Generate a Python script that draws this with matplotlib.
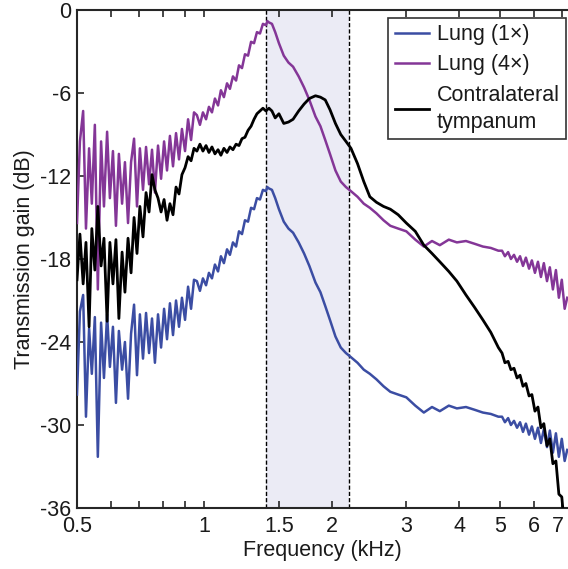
import matplotlib
matplotlib.use("Agg")
import matplotlib.pyplot as plt
from matplotlib.transforms import ScaledTranslation

# ---------------- data ----------------
freq_khz = [
    0.500, 0.508, 0.517, 0.525, 0.534, 0.542, 0.551, 0.560, 0.570, 0.579,
    0.589, 0.598, 0.608, 0.618, 0.628, 0.639, 0.649, 0.660, 0.671, 0.682,
    0.693, 0.704, 0.716, 0.728, 0.740, 0.752, 0.764, 0.777, 0.790, 0.803,
    0.816, 0.829, 0.843, 0.857, 0.871, 0.885, 0.900, 0.915, 0.930, 0.945,
    0.960, 0.976, 0.992, 1.009, 1.025, 1.042, 1.059, 1.077, 1.094, 1.112,
    1.131, 1.149, 1.168, 1.188, 1.207, 1.227, 1.247, 1.268, 1.289, 1.310,
    1.331, 1.353, 1.375, 1.398, 1.408, 1.421, 1.444,
    1.47, 1.50, 1.54, 1.58, 1.62, 1.67, 1.72, 1.77, 1.83, 1.88,
    1.93, 1.98, 2.04, 2.10, 2.16, 2.22, 2.30, 2.38, 2.46, 2.55,
    2.65, 2.75, 2.87, 3.00, 3.15, 3.30, 3.45, 3.60, 3.78, 3.95,
    4.15, 4.35, 4.55, 4.75, 4.95,
    5.05, 5.13, 5.22, 5.30, 5.39, 5.48, 5.57, 5.66, 5.75, 5.85,
    5.94, 6.04, 6.14, 6.24, 6.34, 6.45, 6.55, 6.66, 6.77, 6.88,
    6.99, 7.10, 7.20,
]

lung_1x_db = [
    -27.8, -21.8, -20.6, -29.4, -23.0, -26.3, -22.2, -32.3, -22.6, -26.6,
    -22.0, -25.8, -22.9, -28.4, -23.2, -26.0, -24.0, -28.1, -23.4, -21.3,
    -26.4, -22.0, -25.2, -21.9, -24.8, -22.3, -25.5, -22.0, -24.4, -21.6,
    -23.8, -21.2, -23.5, -21.0, -22.9, -20.8, -22.4, -20.0, -21.6, -19.5,
    -19.6, -20.3, -19.4, -19.9, -19.0, -19.4, -18.4, -18.9, -17.8, -18.3,
    -17.3, -17.7, -16.8, -17.1, -16.0, -16.2, -15.2, -15.3, -14.3, -14.4,
    -13.6, -13.7, -13.0, -13.1, -12.8, -12.9, -13.0,
    -13.6, -14.4, -15.3, -15.8, -16.1, -16.8, -17.6, -18.5, -19.7, -20.4,
    -21.4, -22.4, -23.6, -24.4, -24.8, -25.1, -25.5, -26.0, -26.3, -26.7,
    -27.2, -27.6, -27.8, -28.0, -28.6, -29.1, -28.7, -29.0, -28.6, -28.8,
    -28.7, -28.9, -29.1, -29.2, -29.4,
    -29.4, -29.8, -29.5, -30.0, -29.7, -30.2, -29.8, -30.5, -29.9, -30.7,
    -30.1, -31.0, -30.2, -31.3, -30.3, -31.6, -30.4, -32.0, -30.6, -32.3,
    -31.0, -32.6, -31.8,
]

lung_4x_db = [
    -15.4, -9.5, -7.3, -15.8, -10.0, -14.0, -8.3, -20.2, -9.5, -14.2,
    -8.8, -13.6, -10.2, -15.6, -10.4, -14.0, -11.0, -15.4, -11.0, -9.3,
    -14.2, -10.0, -13.0, -9.9, -12.6, -10.1, -13.2, -9.8, -12.2, -9.5,
    -11.6, -9.1, -11.3, -8.9, -10.8, -8.6, -10.2, -7.9, -9.4, -7.4,
    -7.6, -8.3, -7.4, -7.9, -7.0, -7.4, -6.4, -6.9, -5.8, -6.3,
    -5.3, -5.7, -4.8, -5.1, -4.0, -4.2, -3.2, -3.3, -2.3, -2.4,
    -1.6, -1.7, -1.0, -1.1, -0.8, -0.9, -1.0,
    -1.6, -2.4, -3.3, -3.8, -4.1, -4.8, -5.6, -6.5, -7.7, -8.4,
    -9.4, -10.4, -11.6, -12.4, -12.8, -13.1, -13.5, -14.0, -14.3, -14.7,
    -15.2, -15.6, -15.8, -16.0, -16.6, -17.1, -16.7, -17.0, -16.6, -16.8,
    -16.7, -16.9, -17.1, -17.2, -17.4,
    -17.4, -17.8, -17.5, -18.0, -17.7, -18.2, -17.8, -18.5, -17.9, -18.7,
    -18.1, -19.0, -18.2, -19.3, -18.3, -19.6, -18.6, -20.2, -18.8, -20.8,
    -19.5, -21.6, -20.8,
]

contralateral_db = [
    -19.5, -16.2, -19.8, -16.8, -22.9, -15.8, -18.8, -14.2, -18.5, -16.5,
    -22.5, -16.8, -19.8, -16.6, -22.3, -17.5, -20.4, -16.5, -19.0, -15.0,
    -17.6, -14.2, -16.4, -13.2, -14.6, -11.9, -13.0, -13.6, -14.6, -13.7,
    -15.2, -14.0, -14.8, -12.8, -13.3, -11.9, -11.4, -10.6, -10.9, -10.0,
    -10.2, -9.7, -10.2, -9.8, -10.3, -9.9, -10.4, -10.1, -10.5, -10.0,
    -10.3, -9.9, -10.1, -9.7, -9.8, -9.3, -9.2, -8.7, -8.4, -7.9,
    -7.5, -7.3, -7.1, -7.3, -7.2, -7.1, -7.3,
    -7.8, -7.5, -8.2, -8.1, -7.9, -7.3, -6.8, -6.4, -6.2, -6.3,
    -6.5, -7.2, -8.2, -9.0, -9.5, -10.0, -11.1, -12.4, -13.5, -13.9,
    -14.2, -14.4, -14.8, -15.4, -16.0, -17.0, -17.6, -18.2, -18.9, -19.6,
    -20.6, -21.5, -22.4, -23.3, -24.4,
    -24.8, -25.5, -25.4, -26.0, -25.9, -26.6, -26.4, -27.2, -27.0, -27.9,
    -27.8, -29.0, -28.7, -30.2, -29.9, -31.5, -31.0, -32.8, -32.6, -35.0,
    -35.2, -37.5, -38.0,
]

series_labels = ["Lung (1\u00d7)", "Lung (4\u00d7)", "Contralateral\ntympanum"]
band_khz = [1.40, 2.20]

x_ticks = [0.5, 1, 1.5, 2, 3, 4, 5, 6, 7]
x_tick_labels = ["0.5", "1", "1.5", "2", "3", "4", "5", "6", "7"]
x_minor_ticks = [0.6, 0.7, 0.8, 0.9]
y_ticks = [-36, -30, -24, -18, -12, -6, 0]
y_tick_labels = ["-36", "-30", "-24", "-18", "-12", "-6", "0"]

# ---------------- style ----------------
plt.rcParams["font.family"] = ["Liberation Sans", "DejaVu Sans"]
FS = 15.5
BLUE = "#3b4da3"
PURPLE = "#843697"
BLACK = "#000000"
SPINE = "#262626"
TEXT = "#1a1a1a"

fig = plt.figure(figsize=(5.68, 5.69), dpi=100)
ax = fig.add_axes([77 / 568, 1 - 508 / 569, 491.5 / 568, 498 / 569])

ax.axvspan(band_khz[0], band_khz[1], color="#ebebf5", zorder=0, lw=0)
for b in band_khz:
    ax.axvline(b, color="black", lw=1.0, ls=(0, (3, 1.5)), zorder=1)

ax.plot(freq_khz, lung_1x_db, color=BLUE, lw=1.8, label=series_labels[0], zorder=3)
ax.plot(freq_khz, lung_4x_db, color=PURPLE, lw=1.8, label=series_labels[1], zorder=4)
ax.plot(freq_khz, contralateral_db, color=BLACK, lw=2.0, label=series_labels[2], zorder=5)

ax.set_xscale("log")
ax.set_xlim(0.5, 7.25)
ax.set_ylim(-36, 0)
ax.set_xticks(x_ticks)
ax.set_xticklabels(x_tick_labels)
ax.set_xticks(x_minor_ticks, minor=True)
ax.set_yticks(y_ticks)
ax.set_yticklabels(y_tick_labels)

ax.tick_params(axis="both", which="both", direction="in", length=5, width=1.2,
               color=SPINE, labelsize=FS, labelcolor=TEXT, top=True, right=False)
ax.tick_params(axis="x", which="both", pad=6)
ax.tick_params(axis="y", pad=4)

# keep the last tick label ("7") inside the canvas, as in the reference
last = ax.get_xticklabels()[-1]
last.set_transform(last.get_transform() + ScaledTranslation(-4 / 100, 0, fig.dpi_scale_trans))

for side in ["left", "bottom", "top"]:
    ax.spines[side].set_linewidth(1.5)
    ax.spines[side].set_color(SPINE)
ax.spines["right"].set_visible(False)

ax.set_xlabel("Frequency (kHz)", fontsize=FS, color=TEXT, labelpad=2)
ax.set_ylabel("Transmission gain (dB)", fontsize=FS, color=TEXT, labelpad=4)

leg = ax.legend(loc="upper right", bbox_to_anchor=(566 / 568, 1 - 18 / 569),
                bbox_transform=fig.transFigure, borderaxespad=0,
                fontsize=FS, frameon=True, fancybox=False, framealpha=1,
                edgecolor="#333333", handlelength=1.6, handletextpad=0.35,
                borderpad=0.3, labelspacing=0.42)
leg.get_frame().set_linewidth(1.2)
for t in leg.get_texts():
    t.set_linespacing(1.4)
    t.set_color(TEXT)

fig.savefig("out.png", dpi=100)
